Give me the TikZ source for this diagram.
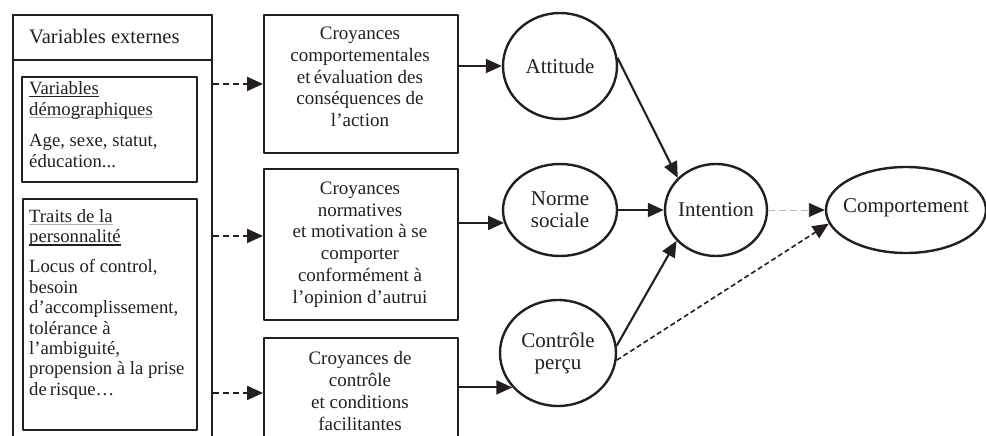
\documentclass[tikz,border=0pt]{standalone}
\usepackage{fontspec}
\setmainfont{Liberation Serif}
\usetikzlibrary{arrows.meta,shapes.geometric}
\definecolor{ink}{HTML}{231F20}
\newcommand\ulk[1]{\setbox0\hbox{#1}\rlap{\textcolor{ink}{\rule[-3pt]{\wd0}{1.6pt}}}\box0}
\newcommand\ulg[1]{\setbox0\hbox{#1}\rlap{\textcolor{gray!60}{\rule[-3pt]{\wd0}{0.7pt}}}\box0}
\begin{document}
\begin{tikzpicture}[x=1pt,y=-1pt,line join=round,
  box/.style={draw=ink,line width=1.9pt,rectangle,inner sep=0pt,anchor=north west},
  oval/.style={draw=ink,line width=2.4pt,ellipse,inner sep=0pt},
  ovaltxt/.style={align=center,font=\fontsize{21}{22}\selectfont,text=ink,inner sep=0pt},
  midtxt/.style={align=center,font=\fontsize{19}{21.8}\selectfont,text=ink,inner sep=0pt},
  lfttxt/.style={align=left,font=\fontsize{18.7}{21}\selectfont,text=ink,inner sep=0pt,anchor=north west},
  tipk/.style={-{Triangle[length=16pt,width=14pt]}},
  solidarr/.style={draw=ink,line width=2.1pt,tipk},
  dasharr/.style={draw=ink,line width=2.1pt,dash pattern=on 6pt off 4pt,tipk}
]
\useasboundingbox (0,0) rectangle (986,436);
\clip (0,0) rectangle (986,436);

% left column
\node[box,minimum width=199pt,minimum height=440pt] (outer) at (12,14) {};
\node[box,minimum width=199pt,minimum height=45pt] (head) at (12,14) {};
\node[font=\fontsize{20.6}{22}\selectfont,text=ink,inner sep=0pt,anchor=west] (headtxt) at (29,37) {Variables externes};
\node[box,minimum width=175pt,minimum height=105pt] (demo) at (21,76) {};
\node[lfttxt] (demotxt) at (29,81) {\ulk{Variables}\\\ulg{démographiques}\\[10pt]Age, sexe, statut,\\éducation...};
\node[box,minimum width=174pt,minimum height=231pt] (perso) at (22,198) {};
\node[lfttxt,font=\fontsize{18.7}{20.4}\selectfont] (persotxt) at (29,209) {\ulg{Traits de la}\\\ulk{personnalité}\\[10pt]Locus of control,\\besoin\\d’accomplissement,\\tolérance à\\l’ambiguité,\\propension à la prise\\de\,risque…};

% middle column
\node[box,minimum width=194pt,minimum height=138pt] (bA) at (263,14) {};
\node[midtxt] (bAtxt) at (360,77) {Croyances\\comportementales\\et\,évaluation des\\conséquences de\\l’action};
\node[box,minimum width=194pt,minimum height=151pt] (bB) at (263,168) {};
\node[midtxt] (bBtxt) at (360,244.5) {Croyances\\normatives\\et motivation à se\\comporter\\conformément à\\l’opinion d’autrui};
\node[box,minimum width=194pt,minimum height=110pt] (bC) at (263,337) {};
\node[midtxt] (bCtxt) at (360,391) {Croyances de\\contrôle\\et conditions\\facilitantes};

% ovals
\node[oval,minimum width=114pt,minimum height=106pt] (att) at (560,66) {};
\node[ovaltxt] (atttxt) at (att) {Attitude};
\node[oval,minimum width=114pt,minimum height=92pt] (norme) at (560,210) {};
\node[ovaltxt] (normetxt) at (norme) {Norme\\sociale};
\node[oval,minimum width=116pt,minimum height=106pt] (cont) at (558,353) {};
\node[ovaltxt] (conttxt) at (cont) {Contrôle\\perçu};
\node[oval,minimum width=102pt,minimum height=92pt] (int) at (716,210) {};
\node[ovaltxt] (inttxt) at (int) {Intention};
\node[oval,minimum width=160pt,minimum height=86pt] (comp) at (906,210) {};
\node[ovaltxt] (comptxt) at ([yshift=2pt]comp) {Comportement};

% left dashed arrows
\draw[dasharr] (outer.east |- bA.west) -- (bA.west);
\draw[dasharr] ([yshift=8.5pt]outer.east |- bB.west) -- ([yshift=8.5pt]bB.west);
\draw[dasharr] (outer.east |- bC.west) -- (bC.west);

% middle to ovals
\draw[solidarr] (att.west -| bA.east) -- (att.west);
\draw[solidarr] (norme.193 -| bB.east) -- (norme.193);
\draw[solidarr] (cont.217 -| bC.east) -- (cont.217);

% ovals to intention / comportement
\draw[solidarr] (att.8) -- (int.140);
\draw[solidarr] (norme.east) -- (int.west);
\draw[solidarr] (cont.7) -- (int.218);
\draw[draw=gray!55,line width=0.9pt,dash pattern=on 7pt off 4pt,-{Triangle[length=16pt,width=14pt,color=ink]}] (int.east) -- (comp.west);
\draw[draw=ink,line width=1.6pt,dash pattern=on 5pt off 3pt,-{Triangle[length=16pt,width=14pt]}] (cont.-7) -- (comp.190);
\end{tikzpicture}
\end{document}
